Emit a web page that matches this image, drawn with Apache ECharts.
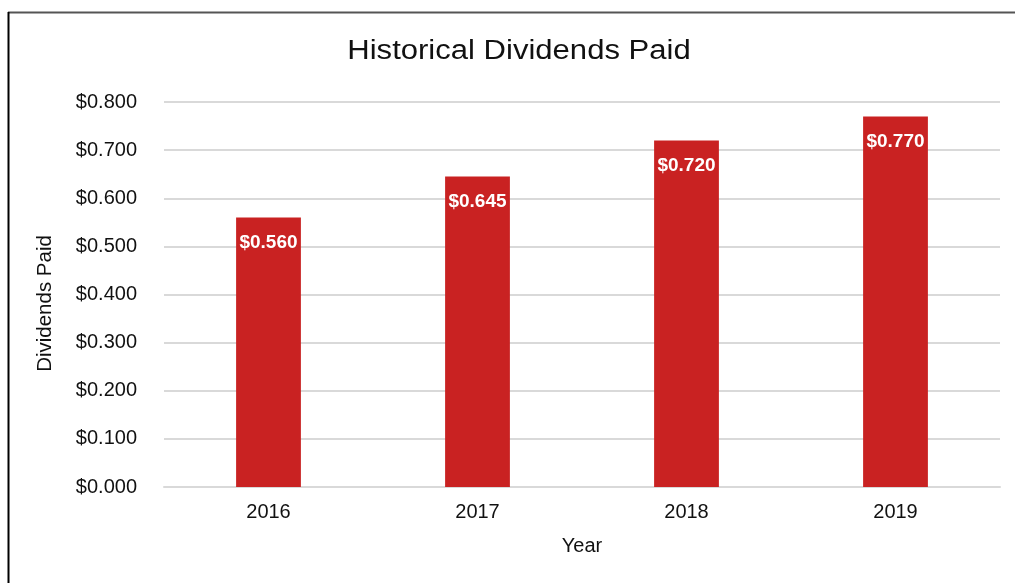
<!DOCTYPE html>
<html>
<head>
<meta charset="utf-8">
<script src="https://cdn.jsdelivr.net/npm/echarts@6/dist/echarts.min.js"></script>
<style>
  html, body { margin: 0; padding: 0; background: #fff; }
  #chart { width: 1015px; height: 583px; }
</style>
</head>
<body>
<div id="chart"></div>
<script>
// Dividends paid per year
const years = ['2016', '2017', '2018', '2019'];
const dividends = [0.560, 0.645, 0.720, 0.770];
const yTicks = [0, 0.1, 0.2, 0.3, 0.4, 0.5, 0.6, 0.7, 0.8];
const titleText = 'Historical Dividends Paid';

const money = v => '$' + Number(v).toFixed(3);
const FONT = 'Liberation Sans, Arial, Helvetica, sans-serif';

const chart = echarts.init(document.getElementById('chart'), null, { renderer: 'canvas' });
chart.setOption({
  backgroundColor: '#ffffff',
  animation: false,
  textStyle: { fontFamily: FONT },
  grid: { left: 164, right: 15, top: 102, bottom: 96, containLabel: false },
  xAxis: {
    type: 'category',
    data: years,
    name: 'Year',
    nameLocation: 'middle',
    nameGap: 49,
    nameTextStyle: { fontFamily: FONT, fontSize: 20, color: '#111' },
    axisLine: { show: true, lineStyle: { color: '#d9d9d9', width: 2 } },
    axisTick: { show: false },
    axisLabel: { fontFamily: FONT, fontSize: 20, color: '#111', margin: 15 }
  },
  yAxis: {
    type: 'value',
    min: yTicks[0],
    max: yTicks[yTicks.length - 1],
    interval: 0.1,
    name: 'Dividends Paid',
    nameLocation: 'middle',
    nameGap: 108,
    nameTextStyle: { fontFamily: FONT, fontSize: 20.5, color: '#111', padding: [0, 18, 0, 0] },
    axisLine: { show: false },
    axisTick: { show: false },
    axisLabel: { fontFamily: FONT, fontSize: 20, color: '#111', margin: 27, formatter: money },
    splitLine: { lineStyle: { color: '#d9d9d9', width: 2 } }
  },
  series: [{
    type: 'bar',
    data: dividends,
    barWidth: '31%',
    itemStyle: { color: '#c92222' },
    label: {
      show: true,
      position: 'insideTop',
      distance: 16,
      formatter: p => money(p.value),
      fontFamily: FONT,
      fontSize: 19,
      fontWeight: 'bold',
      color: '#ffffff'
    }
  }],
  graphic: [
    // chart title, set slightly wide
    {
      type: 'text', x: 519, y: 52, scaleX: 1.15,
      style: {
        text: titleText, font: '27px ' + FONT, fill: '#111',
        align: 'center', verticalAlign: 'middle'
      }
    },
    // frame edges
    { type: 'line', shape: { x1: 8, y1: 12.5, x2: 1015, y2: 12.5 }, style: { stroke: '#555', lineWidth: 2 }, z: 100 },
    { type: 'line', shape: { x1: 8.5, y1: 12, x2: 8.5, y2: 583 }, style: { stroke: '#000', lineWidth: 2 }, z: 100 }
  ]
});
</script>
</body>
</html>
